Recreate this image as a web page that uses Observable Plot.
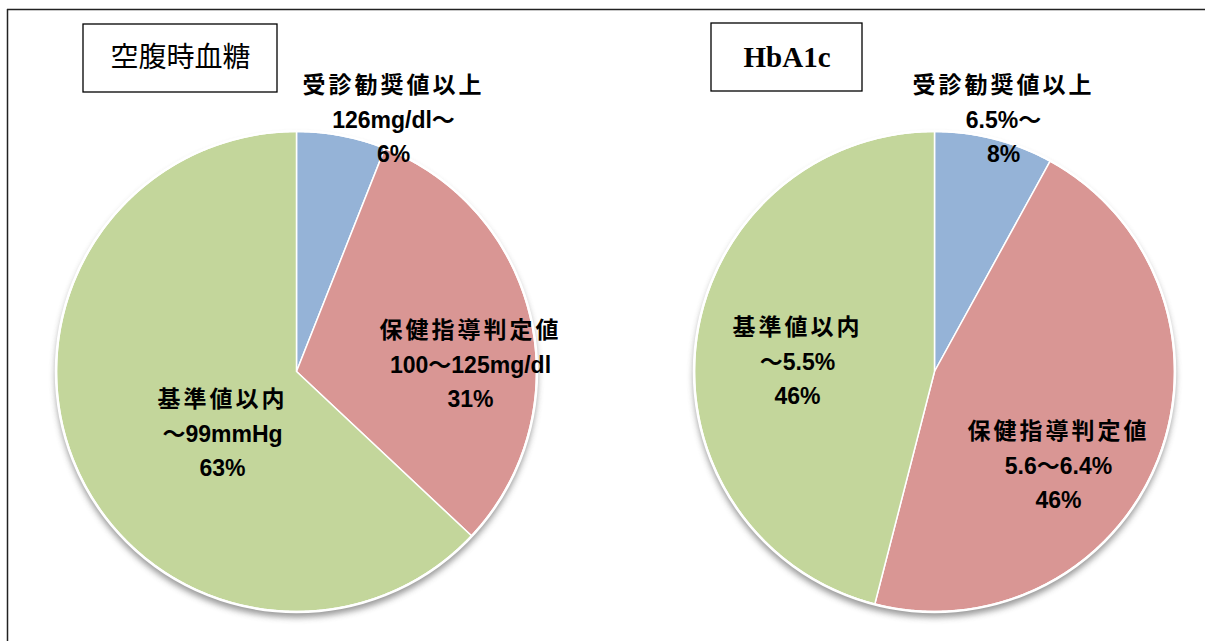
<!DOCTYPE html>
<html><head><meta charset="utf-8">
<script src="https://cdn.jsdelivr.net/npm/d3@7"></script>
<script src="https://cdn.jsdelivr.net/npm/@observablehq/plot@0.6"></script>
<style>body{margin:0;background:#fff;overflow:hidden}</style>
</head><body><div id="chart"></div>
<script>
// ---- data ----
const categories = ["受診勧奨値以上", "保健指導判定値", "基準値以内"];
const sliceColors = ["#95B3D7", "#D99694", "#C3D69B"];
const fastingTitle = "空腹時血糖";
const fastingRanges = ["126mg/dl〜", "100〜125mg/dl", "〜99mmHg"];
const fastingValues = [6, 31, 63];
const hba1cTitle = "HbA1c";
const hba1cRanges = ["6.5%〜", "5.6〜6.4%", "〜5.5%"];
const hba1cValues = [8, 46, 46];

// ---- layout ----
const W = 1205, H = 641, R = 240;
const pies = [
  {title: fastingTitle, ranges: fastingRanges, values: fastingValues, cx: 296, cy: 371,
   labelOffsets: [[97, -255], [174, -10], [-74, 59]], box: [83, 24, 277, 92]},
  {title: hba1cTitle, ranges: hba1cRanges, values: hba1cValues, cx: 934, cy: 371,
   labelOffsets: [[69, -255], [124, 91], [-137, -13]], box: [711, 23, 862, 91]}
];

// wedge outlines from pie angles
const wedges = [], labels = [], centers = [];
pies.forEach((p, pi) => {
  centers.push({x: p.cx, y: p.cy});
  const arcs = d3.pie().sort(null)(p.values);
  arcs.forEach((a, i) => {
    const key = pi + "-" + i;
    wedges.push({key, x: p.cx, y: p.cy, color: sliceColors[i]});
    const n = Math.max(2, Math.ceil((a.endAngle - a.startAngle) / 0.005));
    for (let k = 0; k <= n; k++) {
      const t = a.startAngle + (a.endAngle - a.startAngle) * k / n;
      wedges.push({key, x: p.cx + R * Math.sin(t), y: p.cy - R * Math.cos(t), color: sliceColors[i]});
    }
    wedges.push({key, x: p.cx, y: p.cy, color: sliceColors[i]});
    labels.push({
      x: p.cx + p.labelOffsets[i][0], y: p.cy + p.labelOffsets[i][1],
      text: categories[i] + "\n" + p.ranges[i] + "\n" + p.values[i] + "%"
    });
  });
});
const boxes = pies.map(p => ({x1: p.box[0], y1: p.box[1], x2: p.box[2], y2: p.box[3],
  tx: (p.box[0] + p.box[2]) / 2, ty: (p.box[1] + p.box[3]) / 2, title: p.title}));

const chart = Plot.plot({
  width: W, height: H, margin: 0,
  x: {domain: [0, W], range: [0, W], axis: null},
  y: {domain: [0, H], range: [0, H], axis: null},
  color: {type: "identity"},
  style: {background: "#fff"},
  marks: [
    Plot.dot(centers, {x: "x", y: d => d.y + 5, r: R + 1, fill: "#555", stroke: "none"}),
    Plot.line(wedges, {x: "x", y: "y", z: "key", fill: "color", stroke: "#fff", strokeWidth: 1.5, strokeLinejoin: "round", curve: "linear"}),
    Plot.dot(centers, {x: "x", y: "y", r: R + 0.5, fill: "none", stroke: "#fff", strokeWidth: 2.5}),
    Plot.text(labels, {x: "x", y: "y", text: "text", fontSize: 23, fontWeight: "bold", lineHeight: 1.5,
      fontFamily: "'Liberation Sans', 'Noto Sans CJK JP', sans-serif", fill: "#000", textAnchor: "middle"}),
    Plot.rect(boxes, {x1: "x1", x2: "x2", y1: "y1", y2: "y2", fill: "#fff", stroke: "#000", strokeWidth: 1.3}),
    Plot.text(boxes.slice(0, 1), {x: "tx", y: "ty", text: "title", fontSize: 28, fill: "#000",
      fontFamily: "'Noto Sans CJK JP', sans-serif"}),
    Plot.text(boxes.slice(1), {x: "tx", y: "ty", text: "title", fontSize: 29, fill: "#000", fontWeight: 600,
      fontFamily: "'Liberation Serif', 'DejaVu Serif', serif"}),
    Plot.ruleX([7], {y1: 9, y2: H, stroke: "#222", strokeWidth: 1.5}),
    Plot.ruleY([9], {x1: 7, x2: W, stroke: "#222", strokeWidth: 1.5})
  ]
});

// soft drop shadow under each pie
const svg = d3.select(chart);
const defs = svg.insert("defs", ":first-child");
defs.append("filter").attr("id", "pieShadow").attr("x", "-20%").attr("y", "-20%").attr("width", "140%").attr("height", "140%")
  .append("feGaussianBlur").attr("stdDeviation", 3);
svg.select('g[aria-label="dot"]').attr("filter", "url(#pieShadow)").attr("opacity", 0.6);
// wider spacing for the Japanese category lines
svg.selectAll("tspan").each(function () {
  if (/[\u3040-\u9fff]/.test(this.textContent)) this.setAttribute("letter-spacing", "3px");
});
document.getElementById("chart").append(chart);
</script>
</body></html>
